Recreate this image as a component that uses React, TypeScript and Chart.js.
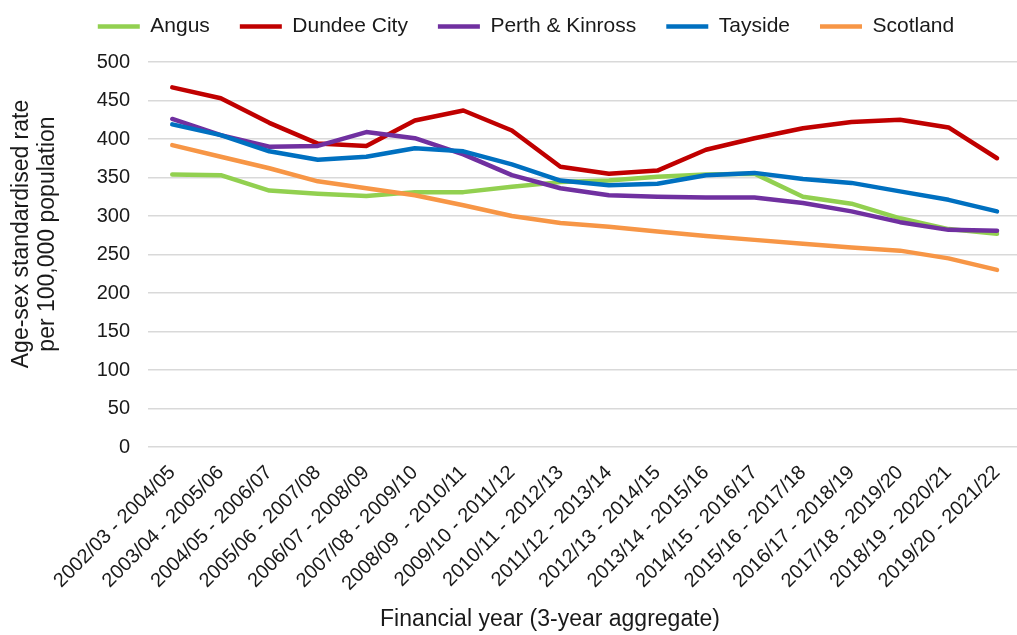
import React, { useEffect, useRef } from 'react';
import { Chart, registerables } from 'chart.js';

Chart.register(...registerables);

const categories = [
  '2002/03 - 2004/05',
  '2003/04 - 2005/06',
  '2004/05 - 2006/07',
  '2005/06 - 2007/08',
  '2006/07 - 2008/09',
  '2007/08 - 2009/10',
  '2008/09  - 2010/11',
  '2009/10 - 2011/12',
  '2010/11 - 2012/13',
  '2011/12 - 2013/14',
  '2012/13 - 2014/15',
  '2013/14 - 2015/16',
  '2014/15 - 2016/17',
  '2015/16 - 2017/18',
  '2016/17 - 2018/19',
  '2017/18 - 2019/20',
  '2018/19 - 2020/21',
  '2019/20 - 2021/22',
];

const angus = [354, 353, 333, 329, 326, 331, 331, 338, 344, 346, 351, 354, 355, 325, 316, 297, 283, 277];
const dundeeCity = [467, 453, 421, 394, 391, 424, 437, 411, 364, 355, 359, 386, 401, 414, 422, 425, 415, 375];
const perthKinross = [426, 405, 390, 391, 409, 401, 380, 353, 336, 327, 325, 324, 324, 317, 306, 292, 282, 281];
const tayside = [419, 405, 384, 373, 377, 388, 384, 367, 346, 340, 342, 353, 356, 348, 343, 332, 321, 306];
const scotland = [392, 377, 362, 345, 336, 327, 314, 300, 291, 286, 280, 274, 269, 264, 259, 255, 245, 230];

const seriesNames = ['Angus', 'Dundee City', 'Perth & Kinross', 'Tayside', 'Scotland'];
const seriesColors = ['#92D050', '#C00000', '#7030A0', '#0070C0', '#F79646'];

const yTicksMin = 0;
const yTicksMax = 500;
const yTickStep = 50;

const xTitle = 'Financial year (3-year aggregate)';
const yTitleLines = ['Age-sex standardised rate', 'per 100,000 population'];

const FONT = "'Liberation Sans', Arial, sans-serif";
const TEXT = '#1a1a1a';
const OFFSET_Y = -14;
const CANVAS_W = 1028;
const CANVAS_H = 649;

export default function App() {
  const ref = useRef<HTMLCanvasElement>(null);

  useEffect(() => {
    if (!ref.current) return;
    const values = [angus, dundeeCity, perthKinross, tayside, scotland];

    const legendHeight = {
      id: 'legendHeight',
      beforeInit(chart: any) {
        const legend = chart.legend;
        if (!legend) return;
        const orig = legend.fit;
        legend.fit = function () {
          orig.call(this);
          this.height = 76;
        };
      },
    };

    const axisTitles = {
      id: 'axisTitles',
      afterDraw(chart: any) {
        const ctx = chart.ctx;
        ctx.save();
        ctx.fillStyle = TEXT;
        ctx.font = `23px ${FONT}`;
        ctx.textAlign = 'center';
        ctx.textBaseline = 'middle';
        ctx.fillText(xTitle, 550, 620 - OFFSET_Y);
        ctx.translate(0, 234 - OFFSET_Y);
        ctx.rotate(-Math.PI / 2);
        yTitleLines.forEach((t, i) => ctx.fillText(t, 0, 22 + 26 * i));
        ctx.restore();
      },
    };

    const chart = new Chart(ref.current, {
      type: 'line',
      data: {
        labels: categories,
        datasets: values.map((v, i) => ({
          label: seriesNames[i],
          data: v,
          borderColor: seriesColors[i],
          backgroundColor: seriesColors[i],
          borderWidth: 4.5,
          pointRadius: 0,
          pointHoverRadius: 0,
          tension: 0,
          fill: false,
          borderCapStyle: 'round' as const,
          borderJoinStyle: 'round' as const,
          order: values.length - i,
        })),
      },
      options: {
        responsive: false,
        animation: false,
        layout: { padding: { left: 24, right: 0, top: 0, bottom: 0 } },
        plugins: {
          tooltip: { enabled: false },
          legend: {
            position: 'top',
            align: 'center',
            labels: {
              usePointStyle: true,
              pointStyle: 'line',
              pointStyleWidth: 42,
              padding: 30,
              color: TEXT,
              font: { family: FONT, size: 21 },
              sort: (a: any, b: any) => a.datasetIndex - b.datasetIndex,
            },
          },
        },
        scales: {
          x: {
            offset: true,
            grid: { display: false, drawTicks: false },
            border: { display: false },
            ticks: {
              autoSkip: false,
              maxRotation: 45,
              minRotation: 45,
              padding: 14,
              color: TEXT,
              font: { family: FONT, size: 20 },
            },
            afterFit(scale: any) {
              scale.height = 188;
            },
          },
          y: {
            min: yTicksMin,
            max: yTicksMax,
            grid: { color: '#D9D9D9', lineWidth: 1.5, drawTicks: false },
            border: { display: false },
            ticks: {
              stepSize: yTickStep,
              padding: 18,
              color: TEXT,
              font: { family: FONT, size: 20 },
            },
            afterFit(scale: any) {
              scale.width = 124;
            },
          },
        },
      },
      plugins: [legendHeight, axisTitles],
    });

    return () => chart.destroy();
  }, []);

  return (
    <div
      style={{
        position: 'fixed',
        left: 0,
        top: 0,
        width: 1017,
        height: 635,
        overflow: 'hidden',
        background: '#ffffff',
      }}
    >
      <div style={{ position: 'absolute', left: 0, top: OFFSET_Y, width: CANVAS_W, height: CANVAS_H }}>
        <canvas ref={ref} width={CANVAS_W} height={CANVAS_H} style={{ width: CANVAS_W, height: CANVAS_H, display: 'block' }} />
      </div>
    </div>
  );
}
